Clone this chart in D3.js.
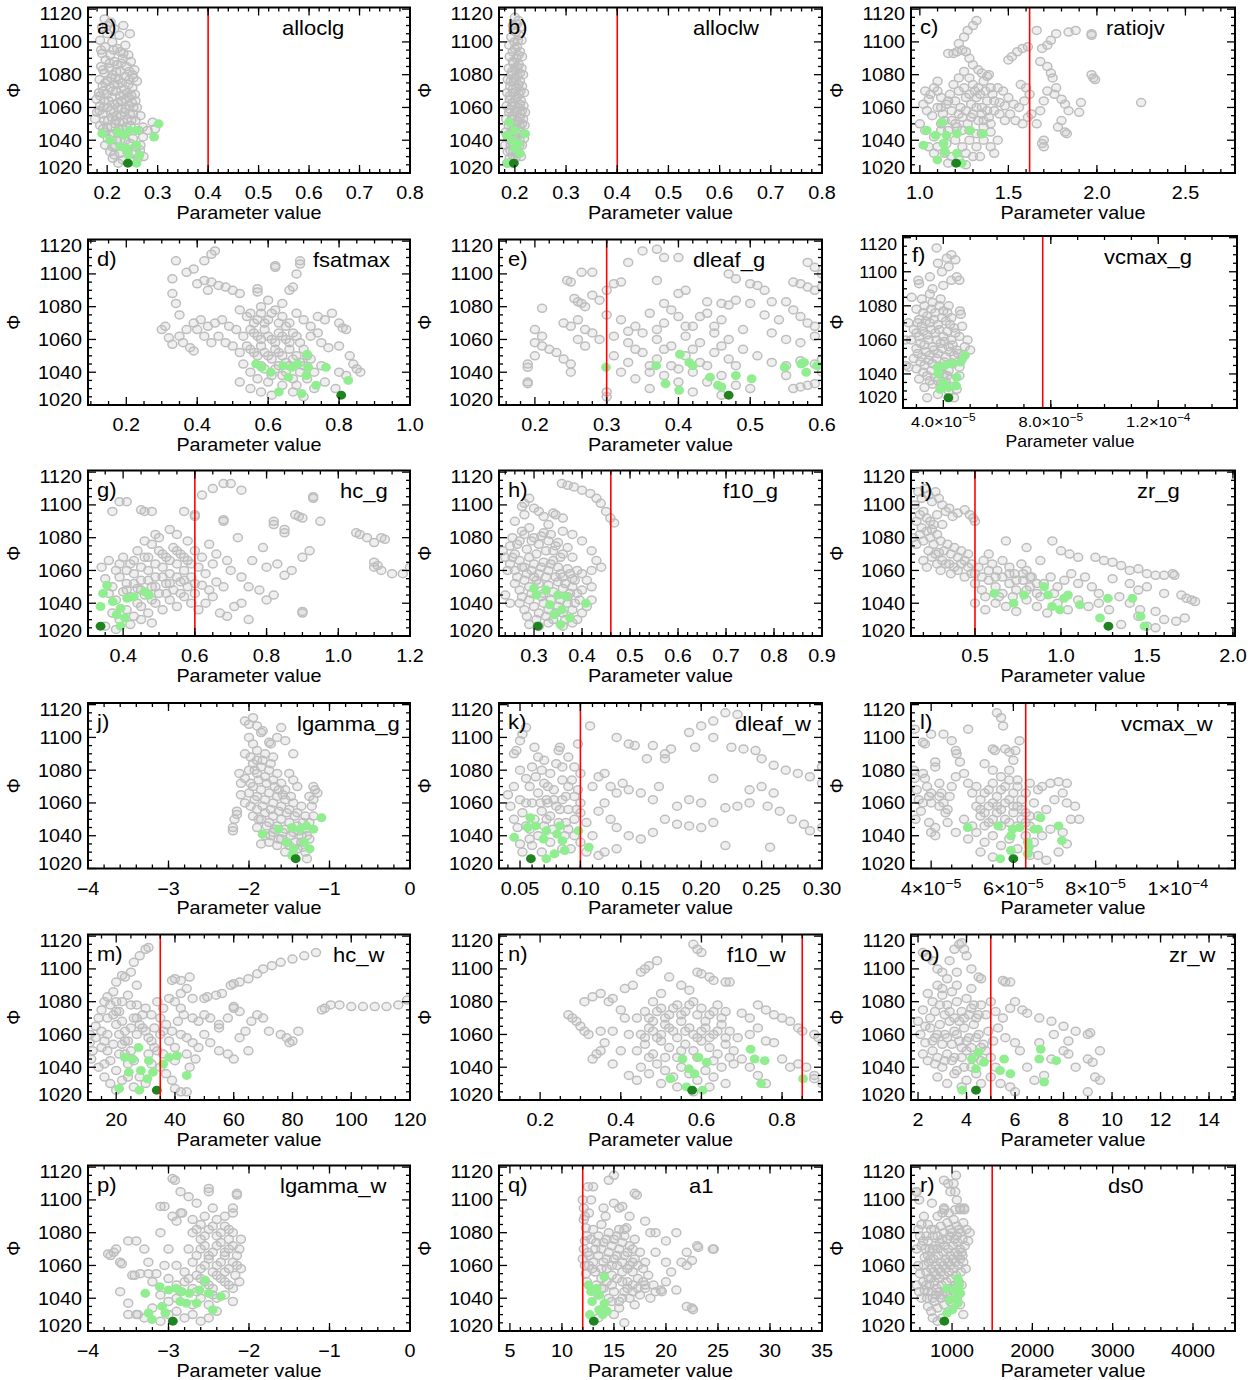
<!DOCTYPE html>
<meta charset="utf-8">
<script src="https://d3js.org/d3.v7.min.js"></script>
<style>
  body { margin: 0; background: #fff; }
  text { font-family: "Liberation Sans", Arial, Helvetica, sans-serif; fill: #000; }
</style>
<div id="chart"></div>
<script>
// ---------- data ----------
var panelNames = ["alloclg","alloclw","ratiojv","fsatmax","dleaf_g","vcmax_g","hc_g","f10_g","zr_g",
                  "lgamma_g","dleaf_w","vcmax_w","hc_w","f10_w","zr_w","lgamma_w","a1","ds0"];
var panelTags = ["a)","b)","c)","d)","e)","f)","g)","h)","i)","j)","k)","l)","m)","n)","o)","p)","q)","r)"];

// reference (red) line per parameter, null = none drawn
var redLines = [0.4, 0.4, 1.62, null, 0.3, 7.7e-5, 0.6, 0.46, 0.5, null, 0.1, 6.3e-5, 35, 0.85, 5, null, 12, 1500];

var xDomains = [[0.162,0.8],[0.169,0.8],[0.95,2.78],[0.092,1.0],[0.15,0.6],[2.5e-5,1.493e-4],
                [0.302,1.2],[0.227,0.9],[0.128,2.012],[-4,0],[0.0326,0.3],[3.51e-5,1.139e-4],
                [10.4,120],[0.098,0.899],[1.71,15.07],[-4,0],[3.95,35],[489,4523]];

var xTicks = [[0.2,0.3,0.4,0.5,0.6,0.7,0.8],[0.2,0.3,0.4,0.5,0.6,0.7,0.8],[1.0,1.5,2.0,2.5],
              [0.2,0.4,0.6,0.8,1.0],[0.2,0.3,0.4,0.5,0.6],[4e-5,8e-5,1.2e-4],
              [0.4,0.6,0.8,1.0,1.2],[0.3,0.4,0.5,0.6,0.7,0.8,0.9],[0.5,1.0,1.5,2.0],
              [-4,-3,-2,-1,0],[0.05,0.10,0.15,0.20,0.25,0.30],[4e-5,6e-5,8e-5,1e-4],
              [20,40,60,80,100,120],[0.2,0.4,0.6,0.8],[2,4,6,8,10,12,14],
              [-4,-3,-2,-1,0],[5,10,15,20,25,30,35],[1000,2000,3000,4000]];

var xTickLabels = [["0.2","0.3","0.4","0.5","0.6","0.7","0.8"],["0.2","0.3","0.4","0.5","0.6","0.7","0.8"],
                   ["1.0","1.5","2.0","2.5"],["0.2","0.4","0.6","0.8","1.0"],["0.2","0.3","0.4","0.5","0.6"],
                   ["4.0×10^−5","8.0×10^−5","1.2×10^−4"],["0.4","0.6","0.8","1.0","1.2"],
                   ["0.3","0.4","0.5","0.6","0.7","0.8","0.9"],["0.5","1.0","1.5","2.0"],
                   ["−4","−3","−2","−1","0"],["0.05","0.10","0.15","0.20","0.25","0.30"],
                   ["4×10^−5","6×10^−5","8×10^−5","1×10^−4"],["20","40","60","80","100","120"],
                   ["0.2","0.4","0.6","0.8"],["2","4","6","8","10","12","14"],
                   ["−4","−3","−2","−1","0"],["5","10","15","20","25","30","35"],
                   ["1000","2000","3000","4000"]];
var xMinor = [5,5,5,4,5,4,4,5,5,5,5,4,4,4,4,5,5,5];

var yTicks = [1020,1040,1060,1080,1100,1120];
var yDomain = [1020,1121];

// all runs (grey)
var greyA = [[0.195,1114],[0.207,1112],[0.19,1109],[0.214,1108],[0.232,1110],[0.2,1105],[0.224,1104],[0.245,1105],[0.186,1101],[0.21,1100],
 [0.196,1097],[0.22,1096],[0.236,1098],[0.19,1093],[0.206,1092],[0.226,1094],[0.242,1092],[0.197,1089],[0.214,1088],[0.231,1090],[0.247,1088],
 [0.188,1085],[0.204,1084],[0.219,1086],[0.238,1085],[0.254,1083],[0.195,1081],[0.211,1080],[0.226,1082],[0.236,1079],[0.25,1080],
 [0.185,1077],[0.2,1076],[0.216,1078],[0.229,1075],[0.244,1077],[0.259,1076],[0.191,1073],[0.206,1072],[0.221,1074],[0.234,1071],[0.25,1072],
 [0.184,1069],[0.199,1068],[0.211,1070],[0.226,1067],[0.24,1069],[0.255,1068],[0.179,1065],[0.194,1064],[0.209,1066],[0.221,1063],[0.236,1065],[0.249,1063],
 [0.186,1061],[0.201,1060],[0.214,1062],[0.229,1059],[0.244,1061],[0.259,1060],[0.18,1057],[0.191,1056],[0.206,1058],[0.219,1055],[0.234,1057],[0.251,1056],
 [0.176,1053],[0.194,1052],[0.21,1054],[0.224,1051],[0.24,1053],[0.256,1052],[0.266,1055],[0.186,1049],[0.2,1048],[0.216,1050],[0.231,1047],[0.246,1049],[0.271,1048],[0.29,1051],
 [0.196,1045],[0.211,1044],[0.262,1046],[0.28,1046],[0.295,1047],[0.201,1041],[0.226,1040],[0.251,1041],[0.271,1042],[0.196,1037],[0.216,1036],[0.246,1038],[0.266,1037],
 [0.206,1033],[0.226,1032],[0.256,1033],[0.211,1029],[0.231,1028],[0.261,1029],[0.272,1030],[0.222,1026],[0.252,1027],
 [0.2,1110],[0.188,1095],[0.213,1095],[0.232,1093],[0.205,1087],[0.228,1087],[0.192,1083],[0.218,1082],[0.244,1082],[0.208,1078],[0.223,1077],[0.252,1078],[0.196,1075],[0.214,1074],[0.242,1074],
 [0.192,1070],[0.218,1070],[0.233,1068],[0.248,1067],[0.186,1067],[0.203,1064],[0.228,1064],[0.243,1066],[0.256,1064],[0.193,1060],[0.221,1060],[0.237,1059],[0.252,1060],[0.185,1058],[0.213,1057],
 [0.227,1055],[0.245,1056],[0.202,1052],[0.217,1052],[0.232,1051],[0.248,1052],[0.192,1047],[0.208,1048],[0.223,1047],[0.238,1048],[0.205,1043],[0.218,1040],[0.21,1036],[0.236,1040],[0.256,1036],[0.214,1031],[0.24,1033],[0.265,1034]];
var greyB = [[0.2,1115],[0.207,1113],[0.196,1110],[0.211,1109],[0.202,1106],[0.193,1103],[0.208,1104],[0.199,1100],[0.213,1101],[0.189,1098],[0.204,1097],[0.196,1094],[0.21,1094],[0.19,1091],[0.203,1090],[0.214,1091],
 [0.197,1087],[0.208,1086],[0.188,1084],[0.201,1083],[0.213,1084],[0.193,1080],[0.205,1079],[0.216,1080],[0.186,1077],[0.198,1076],[0.21,1076],[0.191,1073],[0.203,1072],[0.214,1073],
 [0.185,1069],[0.197,1069],[0.208,1068],[0.218,1069],[0.19,1065],[0.201,1065],[0.212,1064],[0.184,1061],[0.195,1061],[0.206,1060],[0.217,1061],[0.189,1057],[0.2,1057],[0.211,1056],[0.22,1057],
 [0.183,1053],[0.194,1053],[0.205,1052],[0.216,1053],[0.188,1049],[0.199,1049],[0.21,1048],[0.219,1049],[0.182,1045],[0.193,1045],[0.204,1044],[0.213,1045],[0.187,1041],[0.198,1041],[0.209,1040],[0.218,1041],
 [0.181,1037],[0.192,1037],[0.203,1036],[0.214,1037],[0.186,1033],[0.197,1033],[0.208,1032],[0.19,1029],[0.201,1029],[0.212,1030],[0.185,1026],[0.196,1026],
 [0.204,1111],[0.197,1107],[0.206,1101],[0.2,1096],[0.207,1092],[0.196,1088],[0.204,1085],[0.195,1082],[0.21,1081],[0.2,1078],[0.192,1076],[0.207,1074],[0.196,1071],[0.211,1070],[0.19,1067],[0.204,1066],
 [0.196,1063],[0.21,1062],[0.19,1059],[0.203,1058],[0.214,1058],[0.196,1055],[0.21,1054],[0.19,1051],[0.203,1050],[0.214,1050],[0.197,1047],[0.209,1046],[0.192,1043],[0.204,1042],[0.196,1038],[0.209,1037],[0.191,1034],[0.203,1032],[0.197,1030]];
var greyC = [[1.32,1113],[1.3,1110],[1.27,1107],[1.25,1103],[1.22,1099],[1.19,1093],[1.16,1093],[1.21,1094],[1.24,1095],[1.26,1094],[1.28,1090],[1.3,1086],[1.33,1083],[1.35,1081],[1.38,1079],
 [1.5,1089],[1.52,1091],[1.55,1094],[1.58,1096],[1.61,1097],[1.66,1107],[1.69,1096],[1.72,1098],[1.74,1101],[1.77,1105],[1.84,1106],[1.88,1107],[1.97,1105],[1.97,1104],[1.68,1088],[1.72,1085],[1.74,1081],[1.75,1078],
 [1.97,1080],[1.99,1077],[1.98,1078],[1.91,1063],[2.25,1063],[1.9,1057],
 [1.77,1072],[1.76,1068],[1.8,1065],[1.82,1062],[1.84,1058],[1.8,1052],[1.78,1048],[1.82,1045],[1.83,1044],[1.7,1040],[1.69,1038],[1.7,1036],[1.66,1050],[1.68,1058],[1.7,1064],[1.72,1070],
 [1.02,1062],[1.04,1058],[1.0,1050],[1.03,1046],[1.06,1068],[1.08,1072],[1.1,1070],[1.12,1066],[1.07,1055],[1.1,1060],[1.13,1056],[1.15,1062],[1.17,1068],[1.19,1074],[1.22,1078],[1.25,1082],[1.28,1078],[1.3,1074],[1.33,1072],[1.36,1076],[1.39,1080],
 [1.2,1064],[1.23,1060],[1.26,1066],[1.29,1062],[1.32,1066],[1.35,1060],[1.38,1064],[1.41,1068],[1.44,1072],[1.47,1070],[1.5,1066],[1.53,1062],[1.56,1060],[1.59,1064],[1.62,1068],[1.6,1072],[1.57,1074],[1.63,1056],
 [1.18,1052],[1.21,1048],[1.24,1054],[1.27,1050],[1.3,1056],[1.33,1052],[1.36,1048],[1.39,1054],[1.42,1058],[1.45,1056],[1.48,1052],[1.51,1056],[1.54,1052],[1.58,1050],[1.61,1054],
 [1.08,1042],[1.12,1046],[1.05,1036],[1.08,1032],[1.15,1038],[1.2,1040],[1.24,1036],[1.28,1040],[1.32,1036],[1.36,1040],[1.4,1036],[1.44,1040],[1.42,1032],[1.3,1030],[1.22,1028],[1.16,1026],[1.18,1030],[1.26,1025],
 [1.05,1065],[1.03,1070],[1.1,1076],[1.14,1052],[1.45,1063],[1.48,1061],[1.4,1045],[1.35,1044],
 [1.12,1060],[1.16,1064],[1.18,1058],[1.22,1070],[1.25,1072],[1.28,1068],[1.31,1070],[1.34,1068],[1.37,1070],[1.4,1072],[1.22,1056],[1.26,1058],[1.29,1054],[1.32,1060],[1.35,1056],
 [1.38,1058],[1.42,1064],[1.12,1050],[1.16,1046],[1.2,1050],[1.24,1046],[1.28,1046],[1.32,1044],[1.36,1052],[1.4,1050],[1.1,1036],[1.14,1032],[1.26,1032],[1.34,1030]];
var greyD = [[0.34,1108],[0.33,1097],[0.33,1088],[0.34,1082],[0.35,1075],[0.37,1101],[0.39,1103],[0.42,1108],[0.44,1112],[0.45,1114],[0.4,1094],[0.42,1096],[0.44,1095],[0.46,1093],[0.48,1092],[0.5,1090],[0.52,1088],[0.43,1090],
 [0.3,1066],[0.31,1068],[0.32,1061],[0.33,1057],[0.35,1062],[0.36,1058],[0.38,1055],[0.39,1053],[0.37,1066],[0.39,1070],[0.41,1072],[0.43,1068],[0.45,1070],[0.47,1072],[0.49,1068],[0.42,1062],[0.44,1058],[0.46,1062],[0.48,1058],[0.4,1066],
 [0.57,1091],[0.57,1089],[0.62,1105],[0.62,1104],[0.66,1090],[0.67,1092],[0.68,1100],[0.69,1106],[0.69,1108],[0.64,1082],[0.6,1084],[0.58,1080],
 [0.52,1078],[0.54,1074],[0.56,1070],[0.58,1076],[0.6,1072],[0.62,1078],[0.64,1074],[0.66,1070],[0.51,1066],[0.53,1062],[0.55,1066],[0.57,1062],[0.59,1066],[0.61,1060],[0.63,1064],[0.65,1060],[0.67,1064],[0.69,1058],
 [0.5,1056],[0.52,1052],[0.54,1056],[0.56,1052],[0.58,1056],[0.6,1050],[0.62,1054],[0.64,1050],[0.66,1054],[0.68,1050],[0.7,1054],[0.72,1048],
 [0.53,1045],[0.55,1040],[0.57,1036],[0.59,1042],[0.61,1038],[0.63,1044],[0.65,1040],[0.67,1036],[0.69,1040],[0.71,1036],[0.73,1040],[0.75,1044],
 [0.52,1034],[0.55,1030],[0.58,1028],[0.61,1026],[0.64,1032],[0.67,1028],[0.7,1025],[0.73,1030],[0.76,1034],[0.79,1030],
 [0.72,1068],[0.72,1062],[0.74,1074],[0.76,1072],[0.78,1076],[0.8,1070],[0.81,1067],[0.82,1066],[0.75,1058],[0.77,1055],[0.8,1056],[0.83,1050],[0.84,1045],[0.85,1042],[0.86,1040],[0.82,1038],[0.8,1040],[0.74,1064],[0.7,1072],[0.68,1076],
 [0.55,1076],[0.57,1072],[0.59,1070],[0.61,1076],[0.63,1070],[0.65,1068],[0.56,1064],[0.58,1060],[0.6,1062],[0.62,1058],[0.64,1062],[0.66,1058],[0.68,1062],[0.55,1054],[0.57,1050],
 [0.59,1052],[0.61,1048],[0.63,1052],[0.65,1046],[0.67,1048],[0.69,1046],[0.71,1050],[0.58,1044],[0.62,1042],[0.66,1044],[0.7,1044],[0.6,1034],[0.64,1038],[0.68,1032]];
var greyE = [[0.19,1045],[0.19,1043],[0.2,1050],[0.2,1058],[0.21,1056],[0.22,1054],[0.21,1062],[0.2,1066],[0.21,1079],[0.19,1034],[0.19,1033],[0.23,1052],[0.24,1048],[0.25,1045],[0.25,1040],[0.24,1070],[0.25,1068],[0.26,1072],[0.27,1066],[0.28,1064],[0.29,1060],[0.27,1056],[0.26,1060],
 [0.245,1096],[0.25,1095],[0.255,1085],[0.26,1083],[0.265,1082],[0.27,1080],[0.28,1087],[0.29,1084],[0.265,1101],[0.28,1101],[0.3,1090],[0.31,1094],[0.32,1095],[0.33,1107],[0.35,1114],[0.37,1115],[0.38,1110],[0.4,1110],[0.37,1096],
 [0.3,1075],[0.32,1072],[0.34,1068],[0.36,1076],[0.38,1070],[0.4,1074],[0.42,1068],[0.44,1076],[0.46,1072],[0.31,1062],[0.33,1058],[0.35,1064],[0.37,1060],[0.39,1056],[0.41,1062],[0.43,1058],[0.45,1064],[0.47,1060],[0.49,1066],
 [0.31,1050],[0.33,1046],[0.35,1052],[0.37,1048],[0.39,1044],[0.41,1050],[0.43,1046],[0.45,1052],[0.47,1048],[0.49,1054],[0.51,1050],
 [0.32,1040],[0.34,1036],[0.36,1040],[0.38,1038],[0.4,1034],[0.42,1040],[0.44,1034],[0.46,1038],[0.48,1032],[0.5,1030],[0.46,1026],[0.42,1028],[0.36,1030],[0.3,1025],[0.3,1028],
 [0.38,1082],[0.4,1088],[0.41,1090],[0.44,1083],[0.46,1082],[0.47,1081],[0.48,1084],[0.5,1082],[0.47,1100],[0.48,1097],[0.5,1094],[0.51,1093],[0.52,1090],[0.53,1083],[0.55,1083],[0.56,1095],[0.57,1094],[0.58,1092],[0.59,1090],[0.58,1107],[0.59,1104],[0.6,1100],[0.6,1092],
 [0.52,1075],[0.54,1072],[0.56,1078],[0.57,1074],[0.58,1070],[0.59,1068],[0.53,1064],[0.55,1060],[0.57,1058],[0.59,1062],[0.53,1046],[0.55,1044],[0.57,1047],[0.59,1045],[0.56,1030],[0.57,1031],[0.58,1032],[0.59,1033],[0.6,1040],[0.6,1048],[0.55,1038],
 [0.33,1065],[0.37,1066],[0.41,1068],[0.45,1068],[0.34,1054],[0.38,1054],[0.42,1054],[0.46,1056],[0.36,1044],[0.4,1042],[0.44,1044],[0.48,1044],[0.39,1078],[0.43,1074]];
var greyF = [[3.75e-5,1114],[4.13e-5,1108],[4.3e-5,1110],[3.8e-5,1105],[4.45e-5,1107],[4.2e-5,1103],[3.95e-5,1100],[3.07e-5,1095],[3.1e-5,1093],[3.5e-5,1097],[3.6e-5,1090],[4.5e-5,1097],[4.6e-5,1095],[4.3e-5,1095],[4.0e-5,1092],[3.5e-5,1087],[2.82e-5,1085],[3.2e-5,1084],[4.62e-5,1077],[4.65e-5,1075],
 [3.0e-5,1078],[3.3e-5,1080],[3.6e-5,1082],[3.9e-5,1084],[4.2e-5,1080],[3.1e-5,1072],[3.4e-5,1074],[3.7e-5,1076],[4.0e-5,1077],[4.3e-5,1073],[2.9e-5,1066],[3.2e-5,1068],[3.5e-5,1070],[3.8e-5,1069],[4.1e-5,1071],[4.4e-5,1067],
 [2.8e-5,1060],[3.1e-5,1062],[3.4e-5,1063],[3.7e-5,1064],[4.0e-5,1062],[4.3e-5,1060],[4.6e-5,1062],[3.0e-5,1055],[3.3e-5,1057],[3.6e-5,1056],[3.9e-5,1058],[4.2e-5,1056],[4.5e-5,1054],[4.8e-5,1056],[5.0e-5,1054],
 [2.9e-5,1049],[3.2e-5,1050],[3.5e-5,1051],[3.8e-5,1052],[4.1e-5,1050],[4.4e-5,1051],[4.7e-5,1049],[2.7e-5,1044],[3.0e-5,1043],[3.3e-5,1045],[3.6e-5,1046],[3.9e-5,1044],[4.2e-5,1042],[4.6e-5,1044],
 [3.1e-5,1037],[3.4e-5,1039],[3.7e-5,1038],[4.0e-5,1040],[4.3e-5,1037],[4.6e-5,1039],[3.3e-5,1032],[3.6e-5,1034],[3.9e-5,1033],[4.2e-5,1030],[4.5e-5,1031],[3.4e-5,1026],[3.8e-5,1028],[4.4e-5,1026],
 [2.6e-5,1060],[2.6e-5,1045],[2.7e-5,1070],[4.9e-5,1060],[4.7e-5,1068],
 [3.25e-5,1076],[3.55e-5,1078],[3.85e-5,1080],[4.15e-5,1076],[3.05e-5,1070],[3.35e-5,1071],[3.65e-5,1072],[3.95e-5,1073],[4.25e-5,1069],[3.0e-5,1064],[3.25e-5,1065],[3.55e-5,1066],[3.85e-5,1066],
 [4.15e-5,1065],[4.45e-5,1064],[3.15e-5,1058],[3.45e-5,1060],[3.75e-5,1060],[4.05e-5,1059],[4.35e-5,1057],[3.05e-5,1052],[3.35e-5,1053],[3.65e-5,1054],[3.95e-5,1055],[4.25e-5,1053],[4.55e-5,1052],
 [3.15e-5,1047],[3.45e-5,1048],[3.75e-5,1049],[4.05e-5,1047],[4.35e-5,1046],[3.25e-5,1041],[3.55e-5,1042],[3.85e-5,1041],[4.15e-5,1039],[3.5e-5,1036],[3.8e-5,1036],[4.1e-5,1035]];
var greyG = [[0.34,1062],[0.36,1066],[0.38,1060],[0.4,1068],[0.42,1064],[0.44,1072],[0.46,1068],[0.48,1076],[0.5,1072],[0.52,1068],[0.54,1074],[0.56,1070],[0.58,1066],[0.6,1072],[0.62,1068],
 [0.35,1055],[0.37,1050],[0.39,1056],[0.41,1052],[0.43,1058],[0.45,1054],[0.47,1060],[0.49,1056],[0.51,1062],[0.53,1058],[0.55,1064],[0.57,1060],[0.59,1056],[0.61,1062],[0.63,1058],[0.65,1064],
 [0.36,1046],[0.38,1042],[0.4,1047],[0.42,1044],[0.44,1049],[0.46,1045],[0.48,1050],[0.5,1046],[0.52,1052],[0.54,1048],[0.56,1053],[0.58,1050],[0.6,1046],[0.62,1051],[0.64,1048],[0.66,1053],[0.68,1050],
 [0.37,1034],[0.39,1030],[0.41,1036],[0.43,1032],[0.45,1038],[0.47,1034],[0.49,1040],[0.51,1036],[0.53,1042],[0.55,1038],[0.57,1044],[0.59,1040],[0.61,1036],[0.63,1040],[0.65,1044],[0.67,1034],[0.69,1032],[0.71,1038],
 [0.35,1026],[0.38,1024],[0.42,1027],[0.45,1030],[0.48,1028],
 [0.37,1096],[0.39,1102],[0.41,1102],[0.45,1097],[0.46,1096],[0.48,1096],[0.49,1082],[0.53,1085],[0.57,1096],[0.6,1093],[0.6,1094],[0.62,1106],[0.65,1110],[0.68,1113],[0.7,1113],[0.73,1109],[0.68,1090],[0.68,1091],[0.72,1080],
 [0.46,1078],[0.5,1080],[0.55,1082],[0.58,1078],[0.64,1076],[0.66,1070],[0.69,1066],[0.7,1060],[0.73,1056],[0.75,1050],[0.78,1048],[0.8,1042],[0.82,1045],
 [0.79,1074],[0.82,1088],[0.82,1090],[0.85,1085],[0.85,1083],[0.88,1094],[0.89,1093],[0.9,1092],[0.93,1105],[0.93,1104],[0.95,1090],[0.92,1072],[0.9,1068],[0.87,1060],[0.85,1057],[0.83,1064],[0.8,1062],[0.76,1066],
 [1.05,1083],[1.06,1082],[1.08,1080],[1.1,1077],[1.12,1080],[1.13,1079],[1.1,1065],[1.1,1062],[1.11,1063],[1.12,1060],[1.15,1058],[1.18,1058],[1.2,1062],[0.9,1035],[0.9,1034],[0.75,1030],[0.73,1040],
 [0.39,1064],[0.41,1060],[0.43,1066],[0.45,1062],[0.47,1068],[0.49,1064],[0.51,1070],[0.53,1066],[0.55,1072],[0.57,1068],[0.59,1064],[0.41,1048],[0.43,1052],[0.45,1048],[0.47,1054],[0.49,1050],
 [0.51,1056],[0.53,1052],[0.55,1056],[0.57,1054],[0.44,1040],[0.48,1042],[0.52,1046],[0.56,1046],[0.6,1052]];
var greyH = [[0.25,1075],[0.26,1070],[0.27,1078],[0.28,1082],[0.29,1086],[0.3,1080],[0.31,1076],[0.32,1083],[0.33,1078],[0.34,1072],[0.35,1077],[0.36,1070],[0.37,1074],[0.38,1068],
 [0.25,1064],[0.26,1060],[0.27,1066],[0.28,1062],[0.29,1068],[0.3,1064],[0.31,1058],[0.32,1065],[0.33,1060],[0.34,1066],[0.35,1062],[0.36,1056],[0.37,1061],[0.38,1055],[0.39,1060],[0.4,1058],[0.41,1054],
 [0.26,1052],[0.27,1048],[0.28,1054],[0.29,1050],[0.3,1056],[0.31,1052],[0.32,1046],[0.33,1051],[0.34,1047],[0.35,1053],[0.36,1049],[0.37,1044],[0.38,1050],[0.39,1046],[0.4,1048],[0.42,1050],
 [0.27,1040],[0.28,1036],[0.29,1042],[0.3,1038],[0.31,1034],[0.32,1040],[0.33,1036],[0.34,1030],[0.35,1038],[0.36,1034],[0.37,1040],[0.38,1036],[0.39,1030],[0.4,1034],[0.41,1038],[0.42,1042],
 [0.29,1027],[0.31,1026],[0.33,1028],[0.36,1026],[0.38,1028],
 [0.26,1090],[0.28,1094],[0.275,1099],[0.28,1101],[0.29,1104],[0.3,1098],[0.31,1096],[0.32,1093],[0.34,1095],[0.345,1094],[0.36,1092],[0.33,1088],[0.36,1084],[0.38,1082],[0.4,1078],[0.42,1072],[0.43,1066],[0.44,1062],[0.42,1060],
 [0.358,1113],[0.37,1112],[0.383,1111],[0.4,1109],[0.417,1107],[0.43,1104],[0.439,1101],[0.45,1096],[0.459,1092],[0.467,1089],
 [0.235,1072],[0.24,1068],[0.245,1060],[0.24,1045],[0.25,1040],
 [0.255,1080],[0.275,1084],[0.295,1078],[0.315,1081],[0.335,1082],[0.325,1072],[0.305,1070],[0.285,1073],[0.265,1076],[0.345,1075],[0.355,1068],[0.255,1068],[0.275,1062],[0.295,1060],[0.315,1062],
 [0.335,1064],[0.355,1058],[0.375,1058],[0.265,1056],[0.285,1058],[0.305,1054],[0.325,1056],[0.345,1056],[0.365,1052],[0.385,1054],[0.275,1044],[0.295,1046],[0.315,1044],[0.335,1042],[0.355,1042],
 [0.375,1046],[0.395,1042],[0.285,1032],[0.305,1030],[0.325,1032],[0.345,1034],[0.365,1030],[0.385,1040]];
var greyI = [[0.15,1100],[0.17,1108],[0.19,1104],[0.21,1110],[0.23,1106],[0.25,1102],[0.27,1108],[0.29,1104],[0.31,1100],[0.33,1096],[0.35,1098],[0.37,1093],[0.4,1095],[0.44,1097],[0.47,1094],[0.49,1092],[0.5,1090],[0.16,1090],[0.18,1094],[0.2,1096],[0.22,1092],[0.24,1090],[0.26,1088],[0.28,1094],
 [0.14,1080],[0.16,1076],[0.18,1082],[0.2,1078],[0.22,1084],[0.24,1080],[0.26,1076],[0.28,1082],[0.3,1078],[0.32,1072],[0.34,1076],[0.36,1070],[0.38,1074],[0.4,1068],[0.42,1072],[0.44,1066],[0.46,1070],[0.48,1064],
 [0.2,1066],[0.22,1062],[0.25,1068],[0.28,1064],[0.3,1060],[0.33,1064],[0.36,1058],[0.4,1060],[0.44,1056],[0.48,1058],[0.52,1062],[0.55,1066],[0.58,1070],[0.6,1064],[0.63,1060],[0.66,1066],[0.7,1062],[0.73,1058],[0.77,1064],[0.8,1060],[0.83,1056],
 [0.5,1052],[0.54,1048],[0.58,1054],[0.62,1050],[0.66,1046],[0.7,1052],[0.74,1048],[0.78,1054],[0.82,1050],[0.86,1046],[0.9,1052],[0.94,1056],[0.98,1050],[1.02,1054],[1.06,1058],[1.1,1052],[1.14,1056],[1.18,1050],[1.22,1046],
 [0.5,1040],[0.56,1036],[0.62,1040],[0.68,1038],[0.74,1035],[0.8,1042],[0.86,1038],[0.92,1034],[0.98,1040],[1.04,1036],[1.1,1042],[1.16,1038],[1.22,1040],[1.28,1036],[1.34,1044],[1.4,1040],[1.46,1036],
 [0.95,1078],[1.0,1072],[1.05,1070],[1.1,1068],[1.2,1068],[1.25,1066],[1.3,1065],[1.35,1063],[1.4,1060],[1.45,1061],[1.5,1058],[1.55,1057],[1.6,1057],[1.65,1058],[1.66,1057],[1.3,1055],[1.4,1052],[1.5,1050],[1.6,1046],
 [1.7,1045],[1.73,1043],[1.76,1042],[1.78,1041],[1.45,1032],[1.55,1035],[1.6,1030],[1.67,1029],[1.72,1031],[1.35,1027],[1.5,1026],[1.55,1025],[1.45,1048],[0.68,1078],[0.8,1074],[0.88,1066],
 [0.23,1072],[0.27,1070],[0.31,1066],[0.35,1064],[0.38,1062],[0.42,1064],[0.46,1062],[0.5,1058],[0.54,1056],[0.58,1060],[0.62,1056],[0.66,1056],[0.7,1058],[0.74,1054],[0.78,1058],
 [0.82,1056],[0.86,1052],[0.56,1044],[0.64,1044],[0.72,1044],[0.8,1048],[0.88,1044],[0.96,1046],[0.19,1086],[0.25,1085],[0.31,1088],[0.29,1071]];
var greyJ = [[-2.05,1110],[-2.0,1108],[-1.95,1112],[-1.9,1107],[-1.85,1103],[-1.83,1104],[-1.75,1097],[-1.73,1096],[-1.65,1100],[-1.6,1106],[-1.55,1098],[-1.45,1090],[-2.0,1100],[-1.95,1096],[-1.9,1092],[-1.8,1090],[-2.05,1090],
 [-2.1,1065],[-2.05,1075],[-2.0,1080],[-1.95,1084],[-1.9,1078],[-1.85,1082],[-1.8,1076],[-1.75,1080],[-1.7,1074],[-1.65,1078],[-1.6,1072],[-1.55,1068],
 [-2.05,1060],[-2.0,1066],[-1.95,1070],[-1.9,1064],[-1.85,1068],[-1.8,1062],[-1.75,1066],[-1.7,1060],[-1.65,1064],[-1.6,1058],[-1.55,1062],[-1.5,1056],[-1.45,1060],[-1.4,1054],[-1.35,1058],[-1.3,1052],
 [-1.95,1052],[-1.9,1056],[-1.85,1050],[-1.8,1054],[-1.75,1048],[-1.7,1052],[-1.65,1046],[-1.6,1050],[-1.55,1044],[-1.5,1048],[-1.45,1042],[-1.4,1046],[-1.35,1040],[-1.3,1044],[-1.25,1048],[-1.2,1052],
 [-1.8,1040],[-1.75,1036],[-1.7,1042],[-1.65,1034],[-1.6,1038],[-1.55,1030],[-1.5,1034],[-1.45,1028],[-1.4,1032],[-1.35,1036],[-1.3,1030],[-1.28,1026],[-1.25,1038],
 [-2.2,1045],[-2.2,1043],[-2.18,1050],[-2.15,1053],[-2.15,1055],[-2.1,1072],[-2.12,1078],[-1.98,1058],[-1.9,1045],[-1.85,1035],
 [-1.2,1070],[-1.18,1068],[-1.15,1066],[-1.2,1062],[-1.22,1058],[-1.25,1064],[-1.4,1070],[-1.45,1074],[-1.5,1078],
 [-1.98,1072],[-1.88,1074],[-1.78,1072],[-1.68,1070],[-1.93,1080],[-1.83,1086],[-1.73,1084],[-1.63,1068],[-1.93,1062],[-1.83,1058],[-1.73,1056],[-1.63,1055],[-1.53,1054],[-1.43,1052],[-1.33,1048],[-1.88,1050],
 [-1.78,1046],[-1.68,1044],[-1.58,1042],[-1.48,1040],[-1.38,1043],[-1.28,1040],[-1.73,1040],[-1.63,1038],[-1.53,1036],[-1.43,1036],[-1.33,1033],[-1.98,1088],[-1.9,1086],[-1.7,1088],[-1.58,1065],[-1.48,1064]];
var greyK = [[0.04,1065],[0.042,1058],[0.045,1050],[0.048,1045],[0.05,1035],[0.052,1030],[0.045,1090],[0.047,1092],[0.05,1098],[0.052,1102],[0.055,1106],[0.05,1080],[0.055,1075],[0.06,1082],[0.058,1070],
 [0.06,1060],[0.065,1066],[0.07,1072],[0.075,1078],[0.08,1084],[0.082,1092],[0.083,1094],[0.09,1088],[0.095,1082],[0.1,1078],[0.062,1050],[0.068,1055],[0.072,1062],[0.078,1068],[0.085,1074],[0.09,1070],[0.095,1064],[0.1,1060],
 [0.065,1040],[0.07,1046],[0.075,1052],[0.08,1058],[0.085,1062],[0.09,1056],[0.095,1050],[0.1,1054],[0.105,1048],[0.06,1034],[0.068,1030],[0.075,1036],[0.085,1032],[0.09,1044],[0.095,1040],[0.1,1036],[0.105,1030],[0.11,1040],
 [0.055,1060],[0.058,1044],[0.07,1086],[0.073,1060],[0.088,1048],[0.098,1096],[0.108,1107],
 [0.11,1070],[0.115,1076],[0.12,1078],[0.125,1070],[0.13,1066],[0.135,1072],[0.14,1068],[0.12,1060],[0.115,1055],[0.125,1050],[0.13,1045],[0.14,1040],[0.15,1038],[0.16,1042],[0.12,1030],[0.13,1032],[0.115,1028],
 [0.14,1096],[0.145,1095],[0.13,1100],[0.16,1095],[0.17,1090],[0.175,1093],[0.19,1103],[0.195,1094],[0.2,1107],[0.21,1110],[0.22,1115],[0.23,1114],[0.21,1100],[0.155,1087],[0.17,1087],
 [0.15,1066],[0.16,1062],[0.165,1070],[0.18,1058],[0.19,1062],[0.2,1060],[0.21,1075],[0.22,1057],[0.23,1058],[0.24,1060],[0.255,1058],[0.26,1066],[0.17,1050],[0.18,1047],[0.19,1046],[0.2,1045],[0.21,1048],
 [0.225,1094],[0.235,1093],[0.245,1092],[0.25,1087],[0.26,1083],[0.27,1080],[0.28,1078],[0.29,1076],[0.3,1082],[0.3,1072],[0.285,1047],[0.275,1050],[0.265,1055],[0.22,1034],[0.257,1033],[0.29,1043],[0.3,1045],[0.24,1068],[0.25,1070],
 [0.045,1070],[0.05,1062],[0.052,1054],[0.055,1046],[0.058,1038],[0.063,1076],[0.068,1080],[0.073,1070],[0.078,1062],[0.083,1056],[0.088,1064],[0.093,1074],[0.098,1068],[0.067,1060],[0.072,1050],
 [0.077,1044],[0.082,1048],[0.087,1040],[0.092,1032],[0.097,1056],[0.065,1088],[0.085,1082],[0.062,1094]];
var greyL = [[3.6e-5,1105],[3.58e-5,1080],[3.6e-5,1075],[3.65e-5,1068],[3.7e-5,1062],[3.75e-5,1055],[3.62e-5,1050],[3.8e-5,1078],[3.85e-5,1075],[3.9e-5,1070],[3.95e-5,1064],[4.0e-5,1060],[3.8e-5,1097],[3.85e-5,1096],[4.0e-5,1102],[4.1e-5,1082],[4.1e-5,1085],[3.95e-5,1048],[4.0e-5,1042],[4.1e-5,1040],[4.1e-5,1045],
 [4.2e-5,1072],[4.25e-5,1066],[4.3e-5,1060],[4.35e-5,1054],[4.4e-5,1048],[4.2e-5,1058],[4.45e-5,1064],[4.5e-5,1070],[4.3e-5,1102],[4.5e-5,1098],[4.6e-5,1092],[4.62e-5,1090],[4.9e-5,1105],[4.7e-5,1085],[4.8e-5,1078],[4.9e-5,1072],[4.6e-5,1076],
 [5.0e-5,1066],[5.2e-5,1062],[5.4e-5,1068],[5.6e-5,1064],[5.8e-5,1070],[6.0e-5,1066],[6.2e-5,1062],[5.1e-5,1058],[5.3e-5,1054],[5.5e-5,1060],[5.7e-5,1056],[5.9e-5,1062],[6.1e-5,1058],[6.3e-5,1054],[6.5e-5,1060],
 [4.8e-5,1050],[5.0e-5,1046],[5.2e-5,1052],[5.4e-5,1048],[5.6e-5,1054],[5.8e-5,1050],[6.0e-5,1054],[6.2e-5,1050],[6.4e-5,1046],[6.6e-5,1052],[6.8e-5,1056],
 [4.6e-5,1042],[4.9e-5,1038],[5.1e-5,1042],[5.3e-5,1036],[5.5e-5,1040],[5.7e-5,1034],[5.9e-5,1038],[6.1e-5,1032],[6.3e-5,1040],[6.5e-5,1036],[6.7e-5,1040],[6.9e-5,1044],[5.2e-5,1030],[5.5e-5,1027],[6.6e-5,1028],[6.8e-5,1025],
 [5.3e-5,1084],[5.5e-5,1080],[5.7e-5,1076],[5.9e-5,1080],[6.1e-5,1074],[5.5e-5,1093],[5.55e-5,1092],[5.6e-5,1115],[5.7e-5,1112],[5.75e-5,1107],[5.8e-5,1093],[5.9e-5,1091],[6.05e-5,1092],[6.15e-5,1098],[6.0e-5,1086],
 [6.4e-5,1072],[6.6e-5,1068],[6.7e-5,1070],[6.9e-5,1072],[7.1e-5,1073],[7.3e-5,1072],[7.2e-5,1066],[7.0e-5,1062],[7.3e-5,1060],[7.5e-5,1058],[7.4e-5,1050],[7.6e-5,1050],[7.2e-5,1042],[7.1e-5,1030],[7.3e-5,1035],[6.4e-5,1028],
 [5.1e-5,1070],[5.3e-5,1066],[5.5e-5,1072],[5.7e-5,1068],[5.9e-5,1074],[6.1e-5,1070],[6.3e-5,1066],[5.2e-5,1056],[5.4e-5,1058],[5.6e-5,1058],[5.8e-5,1060],[6.0e-5,1058],[6.2e-5,1056],[6.4e-5,1052],
 [5.3e-5,1046],[5.5e-5,1050],[5.7e-5,1046],[5.9e-5,1048],[6.1e-5,1046],[6.3e-5,1048],[4.0e-5,1066],[4.2e-5,1064],[3.8e-5,1060],[4.4e-5,1056]];
var greyM = [[11,1060],[11,1055],[12,1050],[11.5,1045],[13,1065],[14,1070],[15,1062],[16,1056],[17,1050],[18,1044],[15,1075],[16,1080],[17,1083],[18,1078],[19,1072],[20,1066],[21,1060],[22,1054],[23,1048],[24,1042],
 [19,1086],[20,1080],[21,1074],[22,1068],[23,1062],[24,1056],[25,1050],[26,1044],[27,1060],[28,1066],[29,1072],[30,1076],[26,1070],[25,1078],[24,1084],
 [20,1092],[22,1096],[23,1095],[25,1098],[26,1104],[28,1108],[30,1112],[31,1113],[27,1090],
 [30,1062],[32,1056],[34,1050],[31,1048],[33,1064],[35,1070],[36,1062],[38,1056],[40,1052],[42,1060],[44,1058],[46,1055],[36,1076],[38,1082],[40,1080],[42,1085],[44,1088],[46,1082],[39,1093],[40,1094],[42,1093],[45,1095],
 [14,1040],[16,1034],[18,1030],[20,1026],[22,1032],[26,1028],[28,1034],[30,1030],[35,1040],[37,1036],[39,1032],[40,1027],[42,1025],[44,1025],[45,1040],[47,1045],[48,1052],
 [48,1068],[50,1072],[52,1070],[55,1066],[55,1064],[58,1070],[60,1076],[60,1077],[62,1074],[50,1082],[51,1083],[54,1084],[56,1085],[59,1090],[60,1091],[62,1092],[65,1094],[68,1097],[70,1100],[73,1102],[76,1104],[80,1106],[84,1108],[88,1110],
 [50,1060],[52,1055],[55,1050],[58,1048],[62,1058],[64,1062],[66,1068],[68,1072],[70,1070],[72,1062],[76,1060],[78,1058],[79,1055],[80,1056],[82,1062],[65,1050],[60,1045],
 [90,1075],[91,1076],[93,1078],[96,1078],[100,1077],[104,1077],[108,1077],[112,1077],[116,1078],[119,1081],
 [13,1058],[15,1052],[17,1060],[19,1054],[21,1048],[23,1056],[25,1064],[27,1070],[29,1064],[31,1058],[33,1052],[35,1060],[37,1066],[39,1062],[41,1068],[43,1072],
 [17,1070],[20,1074],[22,1080],[27,1078],[32,1072],[34,1080],[16,1042],[20,1038],[24,1034],[32,1042],[36,1048],[40,1044],[44,1048],[42,1076],[46,1070]];
var greyN = [[0.27,1072],[0.28,1070],[0.29,1068],[0.3,1065],[0.31,1062],[0.32,1060],[0.33,1045],[0.34,1048],[0.35,1050],[0.31,1080],[0.33,1083],[0.35,1085],[0.37,1080],[0.38,1082],[0.4,1075],[0.41,1070],[0.42,1060],[0.4,1050],[0.38,1042],[0.36,1055],[0.35,1062],[0.38,1062],
 [0.41,1088],[0.43,1090],[0.45,1098],[0.46,1100],[0.47,1102],[0.49,1105],[0.52,1095],[0.55,1090],[0.57,1087],[0.58,1115],[0.59,1112],[0.6,1110],[0.59,1098],[0.6,1097],[0.62,1095],[0.63,1093],[0.66,1092],[0.67,1092],[0.5,1085],[0.48,1080],
 [0.44,1070],[0.46,1074],[0.48,1068],[0.5,1076],[0.52,1072],[0.54,1078],[0.56,1074],[0.58,1080],[0.6,1076],[0.62,1072],[0.64,1078],[0.66,1074],
 [0.45,1060],[0.47,1064],[0.49,1058],[0.51,1066],[0.53,1062],[0.55,1068],[0.57,1064],[0.59,1058],[0.61,1064],[0.63,1060],[0.65,1066],[0.67,1062],[0.69,1058],
 [0.44,1050],[0.46,1054],[0.48,1048],[0.5,1056],[0.52,1052],[0.54,1046],[0.56,1054],[0.58,1050],[0.6,1056],[0.62,1052],[0.64,1048],[0.66,1054],[0.68,1050],
 [0.45,1040],[0.47,1036],[0.49,1042],[0.51,1038],[0.53,1034],[0.55,1040],[0.57,1036],[0.59,1032],[0.61,1038],[0.63,1034],[0.65,1040],[0.5,1030],[0.54,1028],[0.58,1025],[0.62,1028],[0.66,1030],[0.42,1035],[0.44,1032],
 [0.7,1073],[0.72,1070],[0.74,1078],[0.76,1075],[0.78,1072],[0.8,1070],[0.82,1068],[0.84,1064],[0.85,1062],[0.88,1060],[0.89,1058],[0.9,1055],[0.72,1060],[0.74,1064],[0.76,1056],[0.78,1055],[0.8,1045],[0.82,1040],[0.84,1042],[0.86,1040],[0.88,1035],[0.88,1033],[0.9,1030],[0.7,1045],[0.72,1040],[0.74,1035],[0.76,1030],[0.68,1042],
 [0.47,1070],[0.49,1074],[0.51,1070],[0.53,1076],[0.55,1072],[0.57,1078],[0.59,1072],[0.61,1068],[0.63,1074],[0.65,1070],[0.46,1058],[0.48,1062],[0.5,1060],[0.52,1064],[0.54,1058],
 [0.56,1062],[0.58,1060],[0.6,1062],[0.62,1058],[0.64,1062],[0.66,1058],[0.47,1046],[0.51,1046],[0.55,1050],[0.59,1046],[0.63,1044],[0.67,1046]];
var greyO = [[2.2,1110],[2.4,1107],[2.6,1105],[2.8,1100],[3.0,1098],[3.3,1105],[3.5,1112],[3.7,1115],[3.8,1116],[3.9,1112],[4.0,1108],[4.2,1100],[4.5,1095],[4.6,1094],[5.5,1093],[5.6,1092],[5.8,1092],[3.2,1094],[3.6,1098],
 [2.0,1068],[2.2,1075],[2.4,1085],[2.6,1080],[2.8,1090],[3.0,1084],[3.2,1078],[3.4,1086],[3.6,1080],[3.8,1074],[4.0,1082],[4.2,1076],[4.4,1070],[4.6,1078],[4.8,1072],[5.0,1080],[5.2,1074],
 [2.1,1060],[2.3,1055],[2.5,1064],[2.7,1058],[2.9,1066],[3.1,1060],[3.3,1068],[3.5,1062],[3.7,1056],[3.9,1064],[4.1,1058],[4.3,1066],[4.5,1060],[4.7,1054],[4.9,1062],[5.1,1056],[5.3,1064],
 [2.2,1048],[2.4,1044],[2.6,1050],[2.8,1046],[3.0,1040],[3.2,1048],[3.4,1044],[3.6,1038],[3.8,1046],[4.0,1050],[4.2,1040],[4.4,1036],[4.6,1044],[4.8,1050],[5.0,1046],[5.2,1040],
 [2.8,1034],[3.2,1030],[3.5,1036],[3.8,1028],[4.0,1032],[4.6,1030],[5.0,1034],[5.4,1030],[5.8,1028],[6.0,1025],
 [5.5,1070],[5.8,1076],[6.0,1080],[6.3,1075],[6.5,1073],[7.0,1070],[7.5,1068],[8.0,1065],[8.5,1062],[9.0,1060],[9.1,1061],[5.6,1058],[6.0,1055],[6.2,1050],[6.5,1040],[7.0,1055],[7.5,1045],[8.0,1050],[8.2,1048],[8.5,1040],
 [9.0,1045],[9.2,1043],[9.5,1050],[9.5,1032],[9.3,1034],[9.0,1025],[6.8,1032],[7.2,1035],[7.6,1060],[8.2,1056],
 [2.3,1065],[2.5,1070],[2.7,1074],[2.9,1078],[3.1,1072],[3.3,1074],[3.5,1070],[3.7,1068],[3.9,1070],[4.1,1072],[4.3,1078],[4.5,1072],[2.6,1056],[2.8,1060],[3.0,1054],[3.2,1058],
 [3.4,1054],[3.6,1060],[3.8,1052],[4.0,1056],[4.2,1052],[4.4,1058],[4.6,1052],[2.7,1042],[3.1,1044],[3.5,1046],[3.9,1040],[4.3,1046],[3.0,1088],[3.6,1090],[4.2,1088]];
var greyP = [[-3.75,1067],[-3.72,1066],[-3.68,1068],[-3.65,1070],[-3.6,1062],[-3.58,1061],[-3.5,1075],[-3.4,1075],[-3.3,1070],[-3.25,1055],[-3.35,1055],[-3.45,1054],[-3.42,1054],[-3.15,1055],[-3.05,1060],[-3.1,1080],[-3.0,1070],[-3.6,1044],[-3.5,1037],[-3.4,1030],[-3.38,1030],[-3.5,1030],[-3.3,1028],[-3.25,1062],[-3.2,1050],
 [-2.95,1113],[-2.92,1112],[-2.85,1105],[-2.75,1102],[-2.65,1098],[-3.1,1096],[-3.05,1096],[-2.95,1090],[-2.85,1092],[-2.83,1092],[-2.9,1087],[-2.5,1107],[-2.5,1105],[-2.45,1095],[-2.3,1090],[-2.2,1092],[-2.15,1104],[-2.15,1103],[-2.2,1095],[-2.7,1088],[-2.6,1085],
 [-2.7,1080],[-2.6,1076],[-2.5,1082],[-2.4,1078],[-2.3,1084],[-2.2,1080],[-2.1,1076],[-2.75,1070],[-2.65,1066],[-2.55,1072],[-2.45,1068],[-2.35,1074],[-2.25,1070],[-2.15,1066],
 [-2.9,1060],[-2.8,1056],[-2.7,1062],[-2.6,1058],[-2.5,1064],[-2.4,1060],[-2.3,1056],[-2.2,1062],[-2.1,1058],[-3.0,1052],[-2.9,1048],[-2.8,1050],[-2.7,1046],[-2.6,1052],[-2.5,1048],[-2.4,1054],[-2.3,1050],[-2.2,1046],[-2.12,1050],
 [-3.1,1042],[-3.0,1038],[-2.9,1040],[-2.7,1036],[-2.6,1040],[-2.5,1036],[-2.4,1040],[-2.3,1042],[-2.2,1038],[-3.2,1034],[-3.0,1030],[-2.9,1032],[-2.8,1028],[-2.7,1030],[-2.6,1026],[-2.5,1028],[-2.4,1032],[-3.1,1026],
 [-2.3,1066],[-2.4,1088],[-2.25,1082],[-2.55,1090],
 [-2.65,1082],[-2.55,1078],[-2.45,1084],[-2.35,1080],[-2.25,1076],[-2.6,1070],[-2.5,1066],[-2.4,1072],[-2.3,1068],[-2.2,1072],[-2.12,1070],[-2.55,1060],[-2.45,1056],[-2.35,1062],[-2.25,1058],
 [-2.15,1060],[-2.65,1054],[-2.55,1050],[-2.45,1046],[-2.35,1052],[-2.25,1048],[-2.17,1054],[-2.75,1052],[-2.85,1044],[-2.65,1044],[-2.45,1042]];
var greyQ = [[12.0,1100],[12.1,1095],[12.2,1090],[12.1,1088],[12.3,1083],[12.2,1075],[12.1,1070],[12.0,1064],[12.2,1060],[12.3,1055],[12.5,1108],[12.8,1100],[12.6,1092],[13.0,1082],[12.8,1076],[12.6,1066],[12.9,1058],[13.2,1070],
 [13.5,1078],[14,1074],[14.5,1080],[15,1076],[15.5,1082],[16,1078],[16.5,1072],[17,1076],[13.5,1066],[14,1062],[14.5,1068],[15,1064],[15.5,1070],[16,1066],[16.5,1060],[17,1064],[17.5,1068],[18,1062],
 [13.2,1056],[13.8,1052],[14.3,1058],[14.8,1054],[15.3,1060],[15.8,1056],[16.3,1050],[16.8,1056],[17.3,1052],[17.8,1058],[18.3,1054],[18.8,1048],
 [13.5,1042],[14,1046],[14.5,1040],[15,1044],[15.5,1038],[16,1044],[16.5,1040],[17,1036],[17.5,1042],[18,1046],[18.5,1040],[19,1044],[14,1032],[15,1030],[16,1025],[13.5,1028],[15.5,1034],
 [14.5,1112],[15,1115],[13,1108],[14,1095],[15,1098],[15.5,1095],[15.8,1096],[16.5,1090],[17,1104],[17.2,1103],[18,1087],[16,1082],[16.2,1083],[14.2,1090],[13.8,1085],[18.5,1080],
 [19,1080],[20,1075],[21,1080],[22,1068],[23,1072],[23.1,1071],[24.5,1070],[24.6,1070],[22,1060],[21.5,1062],[22.5,1063],[20,1050],[21,1045],[22,1035],[22.5,1034],[22.6,1033],[19.5,1045],[19.6,1044],[18,1048],[20,1062],[19,1068],[20.5,1056],
 [12.4,1078],[12.5,1068],[12.6,1060],[12.4,1050],[13.0,1062],[13.3,1074],[13.8,1070],[14.3,1076],[14.8,1072],[15.3,1078],[15.8,1074],[16.3,1068],[16.8,1070],[13.3,1048],[13.8,1058],[14.3,1064],[14.8,1060],
 [15.3,1066],[15.8,1062],[16.3,1058],[16.8,1062],[17.3,1060],[13.8,1046],[14.3,1050],[14.8,1048],[15.3,1052],[15.8,1050],[16.3,1046],[16.8,1048],[17.3,1046],[14.8,1038],[15.8,1040],[16.8,1044],[17.8,1050]];
var greyR = [[560,1105],[590,1100],[580,1082],[600,1078],[620,1072],[560,1070],[580,1060],[600,1055],[560,1048],[590,1044],[620,1040],[640,1050],[660,1065],[680,1078],[700,1085],[650,1090],[700,1075],[720,1070],[740,1082],[760,1078],
 [650,1060],[680,1056],[710,1062],[740,1058],[770,1064],[800,1060],[830,1066],[860,1062],[890,1068],[920,1064],[950,1070],[980,1066],[1010,1072],[1040,1068],[1070,1074],[1100,1070],[1130,1076],[1160,1072],
 [660,1045],[690,1040],[720,1048],[750,1044],[780,1050],[810,1046],[840,1052],[870,1048],[900,1054],[930,1050],[960,1056],[990,1052],[1020,1058],[1050,1054],[1080,1060],[1110,1056],[1140,1062],[1170,1058],
 [700,1035],[740,1032],[780,1038],[820,1034],[860,1040],[900,1036],[940,1042],[980,1038],[1020,1044],[1060,1040],[1100,1036],[1140,1030],[820,1026],[880,1028],[760,1028],
 [780,1082],[820,1078],[860,1084],[900,1080],[940,1086],[980,1082],[1020,1088],[1060,1084],[1100,1080],[1140,1086],[1180,1082],[1200,1075],[1220,1080],
 [900,1112],[950,1110],[980,1105],[1020,1110],[1050,1115],[1040,1105],[1060,1100],[1100,1095],[1102,1094],[1150,1095],[1152,1094],[900,1095],[902,1094],[750,1098],[550,1105],
 [620,1085],[640,1075],[670,1070],[700,1066],[730,1064],[760,1070],[790,1072],[820,1070],[850,1074],[880,1076],[910,1072],[940,1076],[970,1078],[1000,1080],[1030,1076],[1060,1078],[1090,1082],[1120,1068],
 [680,1048],[710,1052],[740,1052],[770,1056],[800,1054],[830,1058],[860,1056],[890,1060],[920,1058],[950,1062],[980,1060],[1010,1064],[1040,1062],[1070,1066],[1100,1064],[1130,1066],
 [700,1044],[760,1040],[800,1042],[840,1044],[880,1042],[920,1044],[960,1046],[1000,1046],[1040,1048],[1080,1050],[1120,1048],[820,1090],[880,1092],[960,1092],[1040,1094]];

// selected runs (light green)
var greenA = [[0.19,1044],[0.206,1040],[0.221,1045],[0.234,1043],[0.244,1046],[0.259,1046],[0.226,1036],[0.239,1035],[0.258,1037],[0.242,1031],[0.264,1031],[0.258,1026],[0.302,1050],[0.293,1042]];
var greenB = [[0.189,1051],[0.184,1043],[0.2,1046],[0.22,1044],[0.207,1038],[0.21,1032],[0.186,1026],[0.195,1040],[0.2,1035]];
var greenC = [[1.039,1046],[1.02,1037],[1.124,1051],[1.09,1043],[1.15,1043],[1.133,1038],[1.21,1044],[1.284,1046],[1.356,1044],[1.142,1033],[1.099,1028],[1.209,1032],[1.237,1026]];
var greenD = [[0.566,1045],[0.581,1043],[0.607,1040],[0.642,1044],[0.667,1043],[0.683,1045],[0.713,1043],[0.71,1051],[0.657,1037],[0.708,1038],[0.763,1043],[0.63,1028],[0.694,1027],[0.735,1032],[0.826,1035]];
var greenE = [[0.299,1043],[0.369,1044],[0.402,1051],[0.415,1046],[0.42,1044],[0.444,1037],[0.382,1033],[0.401,1029],[0.455,1032],[0.46,1031],[0.48,1038],[0.502,1036],[0.548,1043],[0.571,1045],[0.575,1046],[0.578,1040],[0.593,1044]];
var greenF = [[3.78e-5,1044],[4.06e-5,1045],[4.31e-5,1046],[4.65e-5,1047],[4.81e-5,1051],[3.81e-5,1040],[4.5e-5,1038],[4.0e-5,1035],[4.19e-5,1032],[3.88e-5,1031],[4.48e-5,1033]];
var greenG = [[0.355,1051],[0.344,1046],[0.337,1038],[0.371,1041],[0.393,1037],[0.411,1043],[0.46,1047],[0.472,1045],[0.382,1033],[0.405,1031],[0.393,1026],[0.43,1044]];
var greenH = [[0.305,1045],[0.3,1049],[0.325,1048],[0.35,1045],[0.367,1044],[0.333,1039],[0.358,1036],[0.342,1033],[0.375,1031],[0.408,1040],[0.355,1027]];
var greenI = [[0.613,1046],[0.725,1040],[0.785,1045],[0.902,1050],[0.925,1045],[0.948,1038],[1.018,1043],[1.041,1045],[0.994,1036],[1.11,1039],[1.227,1031],[1.273,1043],[1.416,1043],[1.463,1032],[1.486,1026]];
var greenJ = [[-1.833,1041],[-1.633,1044],[-1.467,1045],[-1.366,1044],[-1.287,1046],[-1.2,1044],[-1.1,1051],[-1.533,1036],[-1.314,1036],[-1.447,1032],[-1.247,1032],[-1.466,1028]];
var greenK = [[0.0452,1039],[0.0585,1051],[0.0563,1045],[0.063,1046],[0.0718,1043],[0.083,1046],[0.0807,1041],[0.085,1037],[0.0695,1038],[0.0984,1043],[0.0785,1029],[0.087,1031],[0.107,1033],[0.0718,1026]];
var greenL = [[4.89e-5,1045],[5.63e-5,1046],[5.98e-5,1044],[6.15e-5,1045],[5.94e-5,1040],[6.51e-5,1044],[6.6e-5,1044],[6.66e-5,1051],[7.1e-5,1046],[7.18e-5,1037],[6.35e-5,1036],[6.38e-5,1033],[5.94e-5,1031],[6.35e-5,1029],[5.68e-5,1026]];
var greenM = [[22.9,1046],[27.6,1052],[25.6,1045],[31.1,1044],[28.4,1038],[24.3,1037],[32.5,1037],[38,1046],[40.7,1047],[30.6,1033],[44,1035],[27.9,1026],[21,1027],[36,1042]];
var greenN = [[0.553,1045],[0.593,1046],[0.613,1043],[0.569,1039],[0.583,1036],[0.523,1033],[0.563,1028],[0.603,1026],[0.722,1051],[0.732,1045],[0.757,1044],[0.748,1030],[0.852,1033]];
var greenO = [[4.22,1045],[4.49,1049],[4.72,1043],[5.55,1045],[4.39,1039],[5.38,1038],[5.81,1036],[7.06,1051],[7.0,1045],[7.7,1044],[7.2,1031],[3.82,1026]];
var greenP = [[-3.289,1043],[-3.11,1047],[-3.0,1045],[-2.905,1046],[-2.834,1044],[-2.74,1043],[-2.615,1045],[-2.545,1051],[-2.5,1043],[-2.35,1041],[-2.855,1038],[-2.78,1037],[-2.65,1037],[-3.08,1035],[-3.04,1031],[-2.45,1033],[-3.248,1031],[-3.206,1027]];
var greenQ = [[12.54,1048],[14.09,1053],[13.33,1046],[12.9,1038],[14.1,1037],[13.57,1033],[14.35,1032],[12.68,1030],[13.93,1030],[12.8,1044],[13.6,1042]];
var greenR = [[1071,1052],[937,1046],[1037,1045],[1104,1043],[971,1039],[1071,1037],[1004,1033],[937,1031],[1090,1048],[1050,1040]];

// best run (dark green), one per panel
var bestRun = [[0.241,1026],[0.198,1026],[1.205,1026],[0.806,1026],[0.47,1026],[4.19e-5,1026],[0.337,1026],[0.308,1026],[1.276,1026],
               [-1.42,1026],[0.059,1026],[6.0e-5,1026],[33.8,1026],[0.577,1026],[4.39,1026],[-2.946,1026],[13.06,1026],[904,1026]];

var greys = [greyA,greyB,greyC,greyD,greyE,greyF,greyG,greyH,greyI,greyJ,greyK,greyL,greyM,greyN,greyO,greyP,greyQ,greyR];
var greens = [greenA,greenB,greenC,greenD,greenE,greenF,greenG,greenH,greenI,greenJ,greenK,greenL,greenM,greenN,greenO,greenP,greenQ,greenR];

// ---------- layout ----------
var colLeft = [88, 499, 911], colRight = [410, 822, 1235];
var rowTop = [7.5, 239.5, 470.5, 703, 934.5, 1165.5];
var panelH = 165.5;
var titleOffset = [194,194,195,225,194,201,252,224,226,209,236,210,245,228,258,192,190,197];
var SX = 1.1; // text is drawn slightly wide, like the original

var svg = d3.select("#chart").append("svg")
    .attr("width", 1259)
    .attr("height", 1380);

function txt(g, x, y, s, size, anchor) {
  var t = g.append("text")
    .attr("transform", "translate(" + x + "," + y + ") scale(" + SX + ",1)")
    .attr("text-anchor", anchor)
    .style("font-size", size + "px");
  var parts = s.split("^");
  t.append("tspan").text(parts[0]);
  if (parts.length > 1) {
    t.append("tspan").attr("dy", "-0.5em").style("font-size", "0.72em").text(parts[1]);
  }
  return t;
}

panelNames.forEach(function(name, i) {
  var c = i % 3, r = Math.floor(i / 3);
  var left = colLeft[c], right = colRight[c], top = rowTop[r], bottom = top + panelH;
  var small = (i === 5);
  if (small) { left = 903; right = 1237; top = 236; bottom = 408; }

  var x = d3.scaleLinear().domain(xDomains[i]).range([left, right]);
  var y = d3.scaleLinear().domain(yDomain).range([bottom, top]);
  var g = svg.append("g");

  var clipId = "clip" + i;
  g.append("clipPath").attr("id", clipId)
    .append("rect").attr("x", left).attr("y", top).attr("width", right - left).attr("height", bottom - top);
  var plot = g.append("g").attr("clip-path", "url(#" + clipId + ")");

  // grey rings
  plot.selectAll(".grey")
    .data(greys[i])
    .enter()
    .append("ellipse")
      .attr("cx", function(d) { return x(d[0]); })
      .attr("cy", function(d) { return y(d[1]); })
      .attr("rx", 4.5).attr("ry", 4.0)
      .attr("fill", "#bebebe")
      .attr("fill-opacity", 0.25)
      .attr("stroke", "#bebebe")
      .attr("stroke-width", 1.5);

  // light green runs
  plot.selectAll(".green")
    .data(greens[i])
    .enter()
    .append("ellipse")
      .attr("cx", function(d) { return x(d[0]); })
      .attr("cy", function(d) { return y(d[1]); })
      .attr("rx", 4.9).attr("ry", 4.5)
      .attr("fill", "#90ee90");

  // best run
  plot.append("ellipse")
    .attr("cx", x(bestRun[i][0]))
    .attr("cy", y(bestRun[i][1]))
    .attr("rx", 4.9).attr("ry", 4.5)
    .attr("fill", "#1f841f");

  // red reference line
  if (redLines[i] !== null) {
    plot.append("line")
      .attr("x1", x(redLines[i])).attr("x2", x(redLines[i]))
      .attr("y1", top).attr("y2", bottom)
      .attr("stroke", "#ff0000")
      .attr("stroke-width", 1.6);
  }

  // ticks (inward, on all four sides)
  var ticksG = g.append("g").attr("stroke", "#000").attr("stroke-width", 1.3);
  var xt = xTicks[i];
  var step = (xt[1] - xt[0]) / xMinor[i];
  var xMinorVals = [];
  for (var v = xt[0] - step; v >= xDomains[i][0] - 1e-12; v -= step) xMinorVals.push(v);
  for (var v2 = xt[0] + step; v2 <= xDomains[i][1] + 1e-12; v2 += step) xMinorVals.push(v2);
  xMinorVals.forEach(function(v) {
    var px = x(v);
    ticksG.append("line").attr("x1", px).attr("x2", px).attr("y1", bottom).attr("y2", bottom - 4);
    ticksG.append("line").attr("x1", px).attr("x2", px).attr("y1", top).attr("y2", top + 4);
  });
  xt.forEach(function(v) {
    var px = x(v);
    ticksG.append("line").attr("x1", px).attr("x2", px).attr("y1", bottom).attr("y2", bottom - 8);
    ticksG.append("line").attr("x1", px).attr("x2", px).attr("y1", top).attr("y2", top + 8);
  });
  for (var yv = 1020; yv <= 1121; yv += 5) {
    var len = (yv % 20 === 0) ? 8 : 4;
    var py = y(yv);
    ticksG.append("line").attr("x1", left).attr("x2", left + len).attr("y1", py).attr("y2", py);
    ticksG.append("line").attr("x1", right).attr("x2", right - len).attr("y1", py).attr("y2", py);
  }

  // frame
  g.append("rect")
    .attr("x", left).attr("y", top)
    .attr("width", right - left).attr("height", bottom - top)
    .attr("fill", "none")
    .attr("stroke", "#000")
    .attr("stroke-width", 2);

  // labels
  var tickSize = small ? 16 : 18;
  yTicks.forEach(function(v) {
    var cy = Math.min(Math.max(y(v), top + (small ? 8 : 6.5)), bottom - (small ? 11 : 5));
    txt(g, left - 6, cy + tickSize * 0.36, String(v), tickSize, "end");
  });
  xt.forEach(function(v, k) {
    txt(g, x(v), bottom + (small ? 18.5 : 26), xTickLabels[i][k], small ? 15 : 18, "middle");
  });
  txt(g, (left + right) / 2, bottom + (small ? 39 : 45.5), "Parameter value", small ? 16 : 18, "middle");

  // Φ axis title
  g.append("text")
    .attr("transform", "translate(" + (colLeft[c] - 68) + "," + ((top + bottom) / 2) + ") rotate(-90)")
    .attr("text-anchor", "middle")
    .style("font-size", "19px")
    .text("Φ");

  txt(g, left + 9, top + 26, panelTags[i], 20, "start");
  txt(g, left + titleOffset[i], top + 27.5, name, 20, "start");
});
</script>
